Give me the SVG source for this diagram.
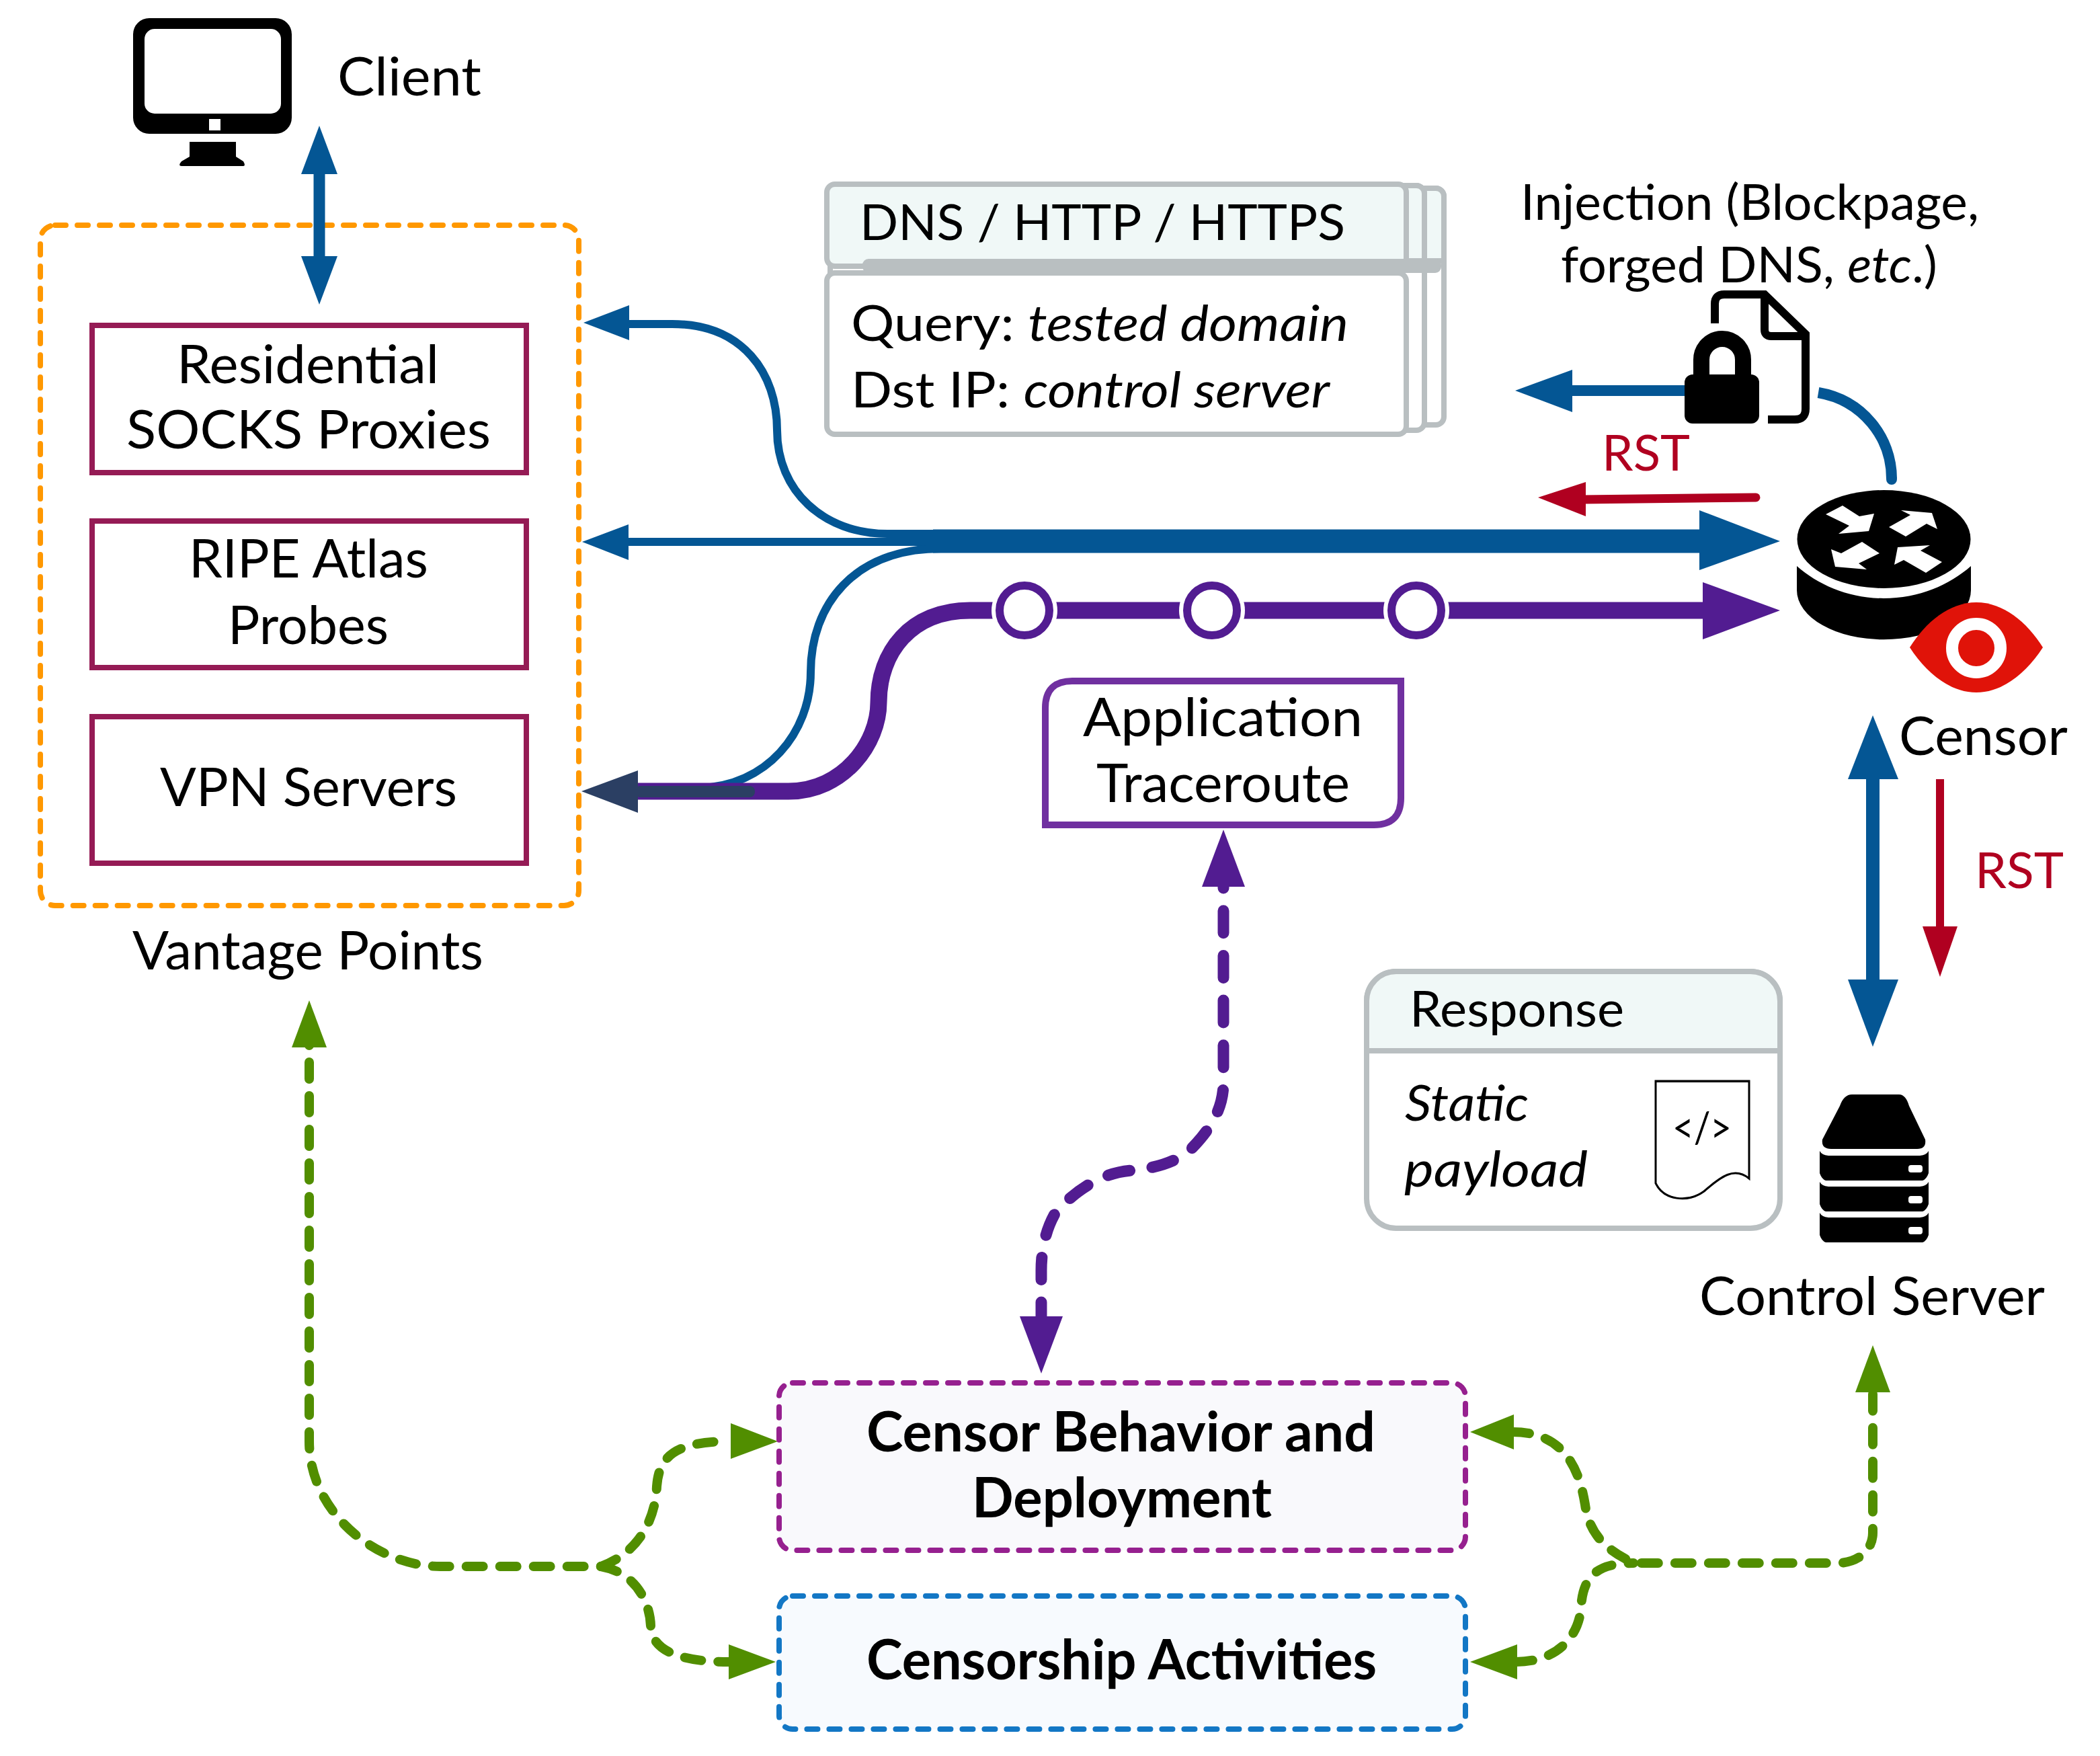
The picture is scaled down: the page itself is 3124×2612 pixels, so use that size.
<svg xmlns="http://www.w3.org/2000/svg" width="3124" height="2612" viewBox="0 0 3124 2612">
<style>
text{font-family:"Lato","Open Sans","Liberation Sans",sans-serif;fill:#000;font-size:80px}
.s{font-size:74px}
.b{font-weight:700;font-size:82px}
.i{font-style:italic}
.red{fill:#b00020}
.line{fill:none;stroke-linejoin:round}
.blue{stroke:#045694}
.bluef{fill:#045694}
.pur{stroke:#521c91}
.purf{fill:#521c91}
.grn{fill:none;stroke:#518e00;stroke-width:14;stroke-linecap:round;stroke-dasharray:25 25}
.grnf{fill:#518e00}
.vp{fill:#fff;stroke:#951b55;stroke-width:8}
.card{fill:#fff;stroke:#b9bfc1;stroke-width:8}
.head{fill:#f0f8f7;stroke:#b9bfc1;stroke-width:8}
.hop{fill:#fff;stroke:#521c91;stroke-width:12}
.dash{stroke-width:8;stroke-linecap:round;stroke-dasharray:16 17}
</style>

<rect width="3124" height="2612" fill="#fff"/>

<g id="vantage-points">
<rect class="dash" x="60" y="335" width="801" height="1012" rx="22" fill="none" stroke="#ff9800"/>
<text x="197" y="1442" textLength="522" lengthAdjust="spacingAndGlyphs">Vantage Points</text>
</g>
<g id="residential"><rect class="vp" x="137" y="484" width="646" height="219"/>
<text x="263" y="570" textLength="390" lengthAdjust="spacingAndGlyphs">Residential</text>
<text x="188" y="667" textLength="542" lengthAdjust="spacingAndGlyphs">SOCKS Proxies</text></g>
<g id="ripe"><rect class="vp" x="137" y="775" width="646" height="218"/>
<text x="281" y="859" textLength="356" lengthAdjust="spacingAndGlyphs">RIPE Atlas</text>
<text x="339" y="958" textLength="239" lengthAdjust="spacingAndGlyphs">Probes</text></g>
<g id="vpn"><rect class="vp" x="137" y="1066" width="646" height="218"/>
<text x="238" y="1199" textLength="442" lengthAdjust="spacingAndGlyphs">VPN Servers</text></g>

<g id="client">
<path fill-rule="evenodd" d="M222,27H410a24,24 0 0 1 24,24V175a24,24 0 0 1-24,24H222a24,24 0 0 1-24-24V51a24,24 0 0 1 24-24ZM230,43a15,15 0 0 0-15,15V154a15,15 0 0 0 15,15H403a15,15 0 0 0 15-15V58a15,15 0 0 0-15-15ZM311,177V194H328V177Z"/>
<path d="M282,211H351V233L362,240Q366,247 362,247H270Q264,247 270,240L282,233Z"/>
<text x="502" y="142" textLength="214" lengthAdjust="spacingAndGlyphs">Client</text>
</g>

<g id="dns-query">
<rect class="card" x="1240" y="280" width="908" height="352" rx="12"/>
<path d="M1240,388V292a12,12 0 0 1 12-12H2136a12,12 0 0 1 12,12V388Z" fill="#f0f8f7" stroke="#b9bfc1" stroke-width="8"/>
<rect class="card" x="1235" y="276" width="884" height="364" rx="12"/>
<path d="M1235,388V288a12,12 0 0 1 12-12H2107a12,12 0 0 1 12,12V388Z" fill="#f0f8f7" stroke="#b9bfc1" stroke-width="8"/>
<rect class="head" x="1230" y="274" width="862" height="122" rx="12"/>
<rect class="card" x="1230" y="406" width="862" height="240" rx="12"/>
<rect x="1283" y="385" width="861" height="21" rx="9" fill="#b9bfc1"/>
<text x="1279" y="357" class="s" textLength="722" lengthAdjust="spacingAndGlyphs">DNS / HTTP / HTTPS</text>
<text x="1266" y="507" class="s" textLength="740" lengthAdjust="spacingAndGlyphs">Query: <tspan class="i">tested domain</tspan></text>
<text x="1266" y="606" class="s" textLength="712" lengthAdjust="spacingAndGlyphs">Dst IP: <tspan class="i">control server</tspan></text>
</g>

<g id="connectors">
<!-- client to vantage points -->
<path class="line blue" stroke-width="17" d="M475,255V385"/>
<polygon class="bluef" points="475,187 502,259 448,259"/><polygon class="bluef" points="475,453 448,381 502,381"/>
<!-- blue bundle -->
<path class="line blue" stroke-width="12" d="M930,482H1000C1105,482 1156,555 1156,640C1156,730 1225,794 1320,794H1400"/>
<polygon class="bluef" points="868,480 936,454 936,506"/>
<path class="line blue" stroke-width="12" d="M930,806H1500"/>
<polygon class="bluef" points="866,806 935,780 935,833"/>
<path class="line blue" stroke-width="12" d="M1400,816C1270,816 1206,900 1206,1000C1206,1090 1140,1170 1040,1172"/>
<path class="line blue" stroke-width="35" d="M1388,805H2530"/>
<polygon class="bluef" points="2648,805 2528,759 2528,848"/>
<!-- purple traceroute -->
<path class="line pur" stroke-width="25" d="M945,1177H1173C1255,1177 1307,1105 1307,1045C1307,970 1355,908 1443,908H2535"/>
<polygon class="purf" points="2648,908 2533,866 2533,951"/>
<g id="traceroute-hops">
<circle cx="1524" cy="908" r="49" fill="#fff"/><circle class="hop" cx="1524" cy="908" r="37"/>
<circle cx="1803" cy="908" r="49" fill="#fff"/><circle class="hop" cx="1803" cy="908" r="37"/>
<circle cx="2107" cy="908" r="49" fill="#fff"/><circle class="hop" cx="2107" cy="908" r="37"/>
</g>
<rect x="945" y="1169" width="178" height="17" rx="8" fill="#2b3f63"/>
<polygon fill="#2b3f63" points="865,1177 949,1146 949,1209"/>
<!-- injection -->
<path class="line blue" stroke-width="16" d="M2335,581H2510"/>
<polygon class="bluef" points="2254,581 2339,550 2339,613"/>
<path class="line blue" stroke-width="16" stroke-linecap="butt" d="M2705,584C2770,595 2814,650 2814,712"/>
<circle class="bluef" cx="2814" cy="713" r="8"/>
<!-- RST to vantage -->
<path fill="none" stroke="#b00020" stroke-width="13" stroke-linecap="round" d="M2355,743L2612,740"/>
<polygon fill="#b00020" points="2288,740 2359,717 2359,768"/>
<!-- censor to control server -->
<path class="line blue" stroke-width="20" d="M2786,1155V1460"/>
<polygon class="bluef" points="2786,1064 2824,1159 2749,1159"/><polygon class="bluef" points="2786,1557 2749,1457 2824,1457"/>
<path fill="none" stroke="#b00020" stroke-width="12" d="M2886,1159V1382"/>
<polygon fill="#b00020" points="2886,1453 2860,1378 2912,1378"/>
<!-- purple dashed -->
<path class="line pur" stroke-width="17" stroke-linecap="round" stroke-dasharray="33 33.7" d="M1820,1288V1610C1820,1650 1800,1680 1773,1708C1750,1730 1715,1738 1683,1741C1640,1744 1600,1770 1570,1804C1555,1830 1549,1860 1549,1890V1958"/>
<polygon class="purf" points="1820,1234 1852,1319 1788,1319"/><polygon class="purf" points="1549,2043 1517,1958 1581,1958"/>
<!-- green dashed -->
<path class="grn" d="M460,1530V2144C460,2250 560,2330 655,2330H894"/>
<polygon class="grnf" points="460,1488 486,1558 434,1558"/>
<path class="grn" d="M894,2330C950,2310 975,2260 977,2211C980,2170 1000,2144 1085,2144"/>
<polygon class="grnf" points="1157,2144 1087,2117 1087,2170"/>
<path class="grn" d="M894,2330C950,2340 968,2390 968,2420C970,2450 1000,2472 1085,2472"/>
<polygon class="grnf" points="1154,2472 1084,2446 1084,2498"/>
<path class="grn" d="M2250,2130C2330,2130 2350,2190 2358,2238C2365,2290 2400,2310 2430,2325H2733C2765,2325 2786,2305 2786,2280V2050"/>
<polygon class="grnf" points="2187,2130 2252,2104 2252,2156"/>
<polygon class="grnf" points="2786,2001 2812,2071 2760,2071"/>
<path class="grn" d="M2255,2472C2320,2472 2350,2430 2352,2390C2355,2345 2375,2325 2430,2325"/>
<polygon class="grnf" points="2187,2472 2257,2446 2257,2498"/>
</g>

<g id="injection">
<text x="2262" y="327" class="s" textLength="682" lengthAdjust="spacingAndGlyphs">Injection (Blockpage,</text>
<text x="2322" y="420" class="s" textLength="560" lengthAdjust="spacingAndGlyphs">forged DNS, <tspan class="i">etc</tspan>.)</text>
<path fill="none" stroke="#000" stroke-width="12" d="M2551,481V452Q2551,438 2565,438H2625L2686,497V608Q2686,624 2670,624H2630"/>
<path fill="none" stroke="#000" stroke-width="12" d="M2625,440V490Q2625,500 2635,500H2689"/>
<rect x="2506" y="557" width="111" height="73" rx="12"/>
<path fill="none" stroke="#000" stroke-width="24" d="M2531,560V535a31,31 0 0 1 62,0V560"/>
</g>
<text x="2383" y="700" class="s red" textLength="131" lengthAdjust="spacingAndGlyphs">RST</text>

<g id="censor">
<ellipse cx="2802.5" cy="802" rx="129" ry="73"/>
<path d="M2673,842C2705,870 2750,890 2802,890C2855,890 2900,870 2932,842V878A129,73 0 0 1 2673,878Z"/>
<g fill="#fff">
<polygon points="2716,765 2741,752 2766,768 2788,764 2780,790 2735,794 2751,782"/>
<polygon points="2828,759 2874,763 2882,787 2866,779 2835,798 2810,784 2842,766"/>
<polygon points="2724,817 2739,823 2770,806 2796,823 2765,838 2777,847 2730,843"/>
<polygon points="2818,840 2823,814 2871,811 2857,819 2889,836 2865,852 2832,833"/>
</g>
<path fill="#e01309" d="M2841,963C2865,925 2900,896 2940,896C2980,896 3015,925 3039,963C3015,1000 2980,1030 2940,1030C2900,1030 2865,1000 2841,963Z"/>
<circle cx="2940" cy="964" r="36" fill="#e01309" stroke="#fff" stroke-width="18"/>
<text x="2825" y="1123" textLength="251" lengthAdjust="spacingAndGlyphs">Censor</text>
</g>
<text x="2938" y="1321" class="s red" textLength="132" lengthAdjust="spacingAndGlyphs">RST</text>

<g id="application-traceroute">
<path d="M1595,1013H2084V1187Q2084,1227 2044,1227H1555V1053Q1555,1013 1595,1013Z" fill="#fff" stroke="#7030a0" stroke-width="10"/>
<text x="1611" y="1095" textLength="416" lengthAdjust="spacingAndGlyphs">Application</text>
<text x="1631" y="1193" textLength="377" lengthAdjust="spacingAndGlyphs">Traceroute</text>
</g>

<g id="response">
<rect class="card" x="2033" y="1445" width="615" height="382" rx="44"/>
<path d="M2033,1563V1489a44,44 0 0 1 44-44H2604a44,44 0 0 1 44,44V1563Z" fill="#f0f8f7" stroke="#b9bfc1" stroke-width="8"/>
<text x="2097" y="1527" class="s" textLength="319" lengthAdjust="spacingAndGlyphs">Response</text>
<text x="2090" y="1667" class="s i" textLength="184" lengthAdjust="spacingAndGlyphs">Static</text>
<text x="2089" y="1765" class="s i" textLength="273" lengthAdjust="spacingAndGlyphs">payload</text>
<path fill="#fff" stroke="#000" stroke-width="3" d="M2463,1608H2602V1753C2580,1735 2560,1750 2535,1772C2510,1790 2475,1785 2463,1760Z"/>
<path d="M2463,1607H2603V1610H2463Z"/>
<text x="2488" y="1700" style="font-size:64px" textLength="88" lengthAdjust="spacingAndGlyphs">&lt;/&gt;</text>
</g>

<g id="control-server">
<path d="M2755,1628H2825Q2835,1628 2840,1645L2864,1695Q2866,1709 2852,1709H2724Q2709,1709 2711,1695L2737,1645Q2743,1628 2755,1628Z"/>
<path fill-rule="evenodd" d="M2707,1712Q2710,1718 2720,1719H2856Q2866,1718 2869,1712V1745Q2866,1754 2860,1756H2716Q2710,1754 2707,1745ZM2843,1733Q2839,1733 2839,1737V1740Q2839,1744 2843,1744H2856Q2860,1744 2860,1740V1737Q2860,1733 2856,1733Z"/>
<path fill-rule="evenodd" d="M2707,1758Q2710,1764 2720,1765H2856Q2866,1764 2869,1758V1791Q2866,1800 2860,1802H2716Q2710,1800 2707,1791ZM2843,1779Q2839,1779 2839,1783V1786Q2839,1790 2843,1790H2856Q2860,1790 2860,1786V1783Q2860,1779 2856,1779Z"/>
<path fill-rule="evenodd" d="M2707,1804Q2710,1810 2720,1811H2856Q2866,1810 2869,1804V1837Q2866,1846 2860,1848H2716Q2710,1846 2707,1837ZM2843,1825Q2839,1825 2839,1829V1832Q2839,1836 2843,1836H2856Q2860,1836 2860,1832V1829Q2860,1825 2856,1825Z"/>
<text x="2528" y="1956" textLength="514" lengthAdjust="spacingAndGlyphs">Control Server</text>
</g>

<g id="censor-behavior">
<rect class="dash" x="1159" y="2057" width="1021" height="249" rx="20" fill="#f9f9fc" stroke="#96208f"/>
<text x="1289" y="2159" class="b" textLength="757" lengthAdjust="spacingAndGlyphs">Censor Behavior and</text>
<text x="1446" y="2257" class="b" textLength="446" lengthAdjust="spacingAndGlyphs">Deployment</text>
</g>
<g id="censorship-activities">
<rect class="dash" x="1159" y="2374" width="1021" height="198" rx="20" fill="#f7fafe" stroke="#1377c5"/>
<text x="1289" y="2498" class="b" textLength="759" lengthAdjust="spacingAndGlyphs">Censorship Activities</text>
</g>
</svg>
